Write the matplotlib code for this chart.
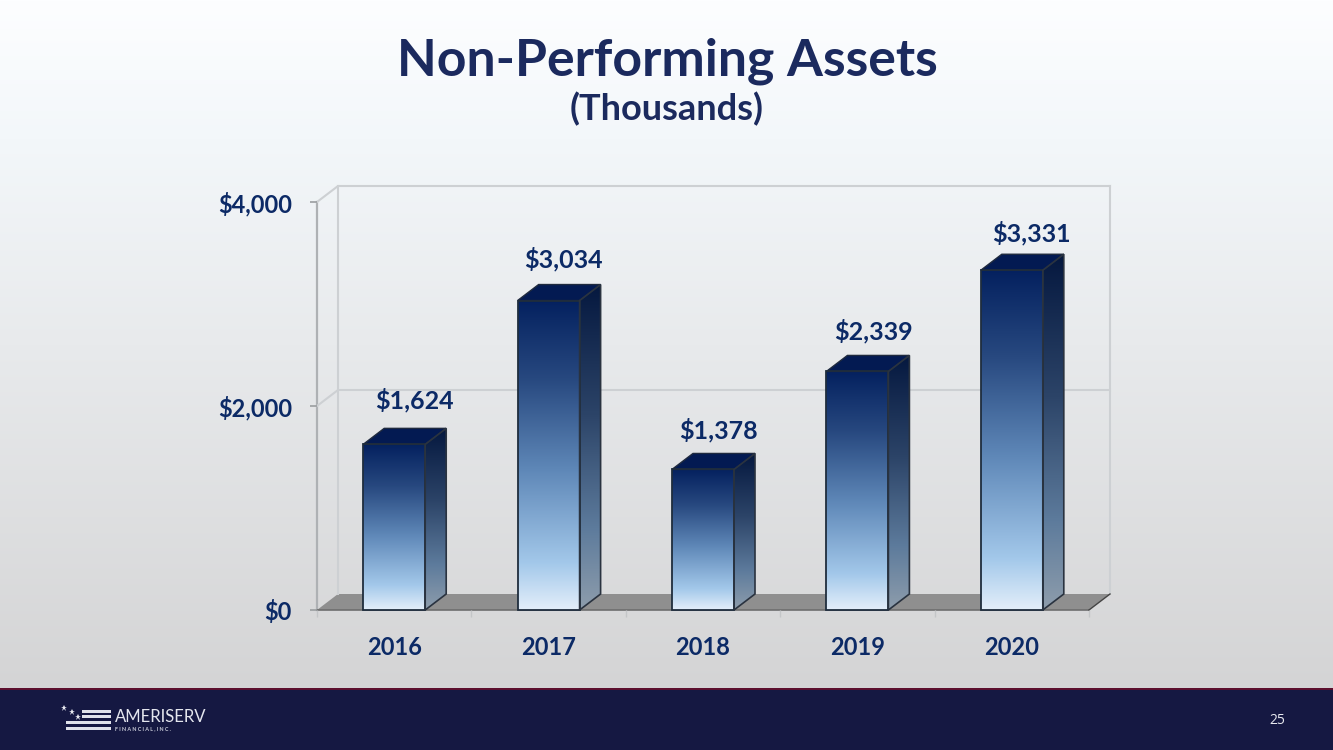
import matplotlib
matplotlib.use('Agg')
import matplotlib.pyplot as plt
import numpy as np
from matplotlib.colors import LinearSegmentedColormap
from matplotlib.patches import Polygon, Rectangle

years = ['2016', '2017', '2018', '2019', '2020']
values = [1624, 3034, 1378, 2339, 3331]
value_labels = ['$1,624', '$3,034', '$1,378', '$2,339', '$3,331']
y_ticks = [0, 2000, 4000]
y_tick_labels = ['$0', '$2,000', '$4,000']

W, H = 1333, 750
LABEL_BLUE = '#0c2a66'
TITLE_BLUE = '#1b2a5e'
GRID = '#cdd0d3'

# label nudges in pixels, they are not centred the same over each bar
label_dx = [20, 15, 15, 16, 20]
label_dy = [44, 41, 39, 40, 37]

front_cmap = LinearSegmentedColormap.from_list('front', [
    (0.0, '#04215f'), (0.25, '#27487f'), (0.55, '#5f88b8'),
    (0.85, '#a3c8ea'), (1.0, '#e3eefa')])
side_cmap = LinearSegmentedColormap.from_list('side', [
    (0.0, '#05183f'), (0.4, '#2c4468'), (0.75, '#5d7b9c'), (1.0, '#8e9dac')])
bg_cmap = LinearSegmentedColormap.from_list('bg', [
    (0.0, '#fdfeff'), (0.2, '#f3f7fa'), (0.5, '#e8eaec'), (1.0, '#d4d4d5')])

fig = plt.figure(figsize=(W / 100, H / 100), dpi=100)

# background and footer, in pixel coordinates
bg = fig.add_axes([0, 0, 1, 1], zorder=0)
bg.axis('off')
bg.imshow(np.linspace(0, 1, 256).reshape(-1, 1), cmap=bg_cmap, aspect='auto',
          extent=[0, W, 690, 0], zorder=0)
bg.set_xlim(0, W)
bg.set_ylim(H, 0)
bg.add_patch(Rectangle((0, 688), W, 62, fc='#151842', ec='none', zorder=1))
bg.add_patch(Rectangle((0, 687.5), W, 2.5, fc='#5c0f2e', ec='none', zorder=2))

# logo
for x0, y0, w in [(82, 710, 29), (82, 715, 29), (66, 721, 45), (66, 727, 45)]:
    bg.add_patch(Rectangle((x0, y0), w, 2.8, fc='#dfe1ea', ec='none', zorder=3))
bg.plot([64, 72, 78], [708, 712, 717], ls='none', marker='*', color='#e8e9f0', ms=4.5, mew=0, zorder=3)
bg.text(115, 717.5, 'AMERISERV', color='#e4e6ee', fontsize=12, family='Lato',
        va='center', ha='left', zorder=3)
bg.text(115, 728.5, 'F I N A N C I A L , I N C .', color='#c9ccd8', fontsize=3.9, family='Lato',
        weight='bold', va='center', ha='left', zorder=3)
bg.text(1277, 720, '25', color='#e8e9f0', fontsize=10, family='Open Sans', ha='center', va='center')

# titles
bg.text(667, 61, 'Non-Performing Assets', color=TITLE_BLUE, fontsize=37.3, weight='bold',
        family='Lato', ha='center', va='center')
bg.text(667, 109, '(Thousands)', color=TITLE_BLUE, fontsize=26, weight='bold',
        family='Lato', ha='center', va='center')

# chart, axes box is the front plane of the 3d plot
left, right, top, bottom = 317, 1089, 202, 610
ax = fig.add_axes([left / W, 1 - bottom / H, (right - left) / W, (bottom - top) / H], zorder=1)
ax.patch.set_alpha(0)
ax.set_xlim(-0.5, len(years) - 0.5)
ax.set_ylim(0, 4000)
for s in ax.spines.values():
    s.set_visible(False)

px = (len(years)) / (right - left)
py = 4000 / (bottom - top)
dx = 21 * px
dy = 16 * py
x0, x1 = ax.get_xlim()

# walls and floor
ax.add_patch(Polygon([(x0, 0), (x0 + dx, dy), (x1 + dx, dy), (x1, 0)], fc='#8f8f8f', ec='none',
                     clip_on=False, zorder=1))
ax.plot([x0, x1], [0, 0], color='#6e6e6e', lw=1.2, clip_on=False, zorder=1.5)
ax.plot([x1, x1 + dx], [0, dy], color='#444444', lw=1, clip_on=False, zorder=1.5)
ax.plot([x0, x0], [0, 4000], color='#aeb1b4', lw=1.6, clip_on=False, zorder=1)
ax.plot([x0 + dx, x0 + dx], [dy, 4000 + dy], color=GRID, lw=1.5, clip_on=False, zorder=1)
ax.plot([x1 + dx, x1 + dx], [dy, 4000 + dy], color=GRID, lw=1.5, clip_on=False, zorder=1)
for t in y_ticks:
    if t > 0:
        ax.plot([x0, x0 + dx, x1 + dx], [t, t + dy, t + dy], color=GRID, lw=1.5,
                clip_on=False, zorder=1)

ax.set_yticks(y_ticks)
ax.set_yticklabels(y_tick_labels, color=LABEL_BLUE, fontsize=17, weight='bold', family='Lato')
ax.set_xticks(np.arange(len(years) + 1) - 0.5)
ax.set_xticklabels([])
ax.set_xticks(np.arange(len(years)), minor=True)
ax.set_xticklabels(years, minor=True, color=LABEL_BLUE, fontsize=17, weight='bold', family='Lato')
ax.tick_params(axis='y', length=5, width=1.2, color='#9a9da0', pad=13)
ax.tick_params(axis='x', which='major', length=5, width=1, color='#c4c6c8')
ax.tick_params(axis='x', which='minor', length=0, pad=19)

# bars
bar_w = 62 * px
grad = np.linspace(0, 1, 256).reshape(-1, 1)
for i, v in enumerate(values):
    xl = i - bar_w / 2
    xr = i + bar_w / 2
    front = Polygon([(xl, 0), (xr, 0), (xr, v), (xl, v)], fc='none', ec='none', transform=ax.transData)
    side = Polygon([(xr, 0), (xr + dx, dy), (xr + dx, v + dy), (xr, v)], fc='none', ec='none',
                   transform=ax.transData)
    im = ax.imshow(grad, cmap=front_cmap, aspect='auto', extent=[xl, xr, 0, v], zorder=3, clip_on=True)
    im.set_clip_path(front)
    im2 = ax.imshow(grad, cmap=side_cmap, aspect='auto', extent=[xr, xr + dx, 0, v + dy], zorder=3)
    im2.set_clip_path(side)
    ax.add_patch(Polygon([(xl, v), (xr, v), (xr + dx, v + dy), (xl + dx, v + dy)], fc='#031a52',
                         ec='#1f2a3e', lw=1, clip_on=False, zorder=4))
    ax.add_patch(Polygon([(xl, 0), (xr, 0), (xr, v), (xl, v)], fc='none', ec='#1f2d3d', lw=1.3,
                         clip_on=False, zorder=4))
    ax.add_patch(Polygon([(xr, 0), (xr + dx, dy), (xr + dx, v + dy), (xr, v)], fc='none', ec='#2a3340',
                         lw=1.2, clip_on=False, zorder=4))
    ax.annotate(value_labels[i], xy=(i, v), xytext=(label_dx[i] * 0.72, label_dy[i] * 0.72),
                textcoords='offset points', ha='center', va='center', color=LABEL_BLUE,
                fontsize=18, weight='bold', family='Lato', zorder=5, annotation_clip=False)

ax.set_xlim(x0, x1)
ax.set_ylim(0, 4000)

fig.savefig('out.png', dpi=100)
